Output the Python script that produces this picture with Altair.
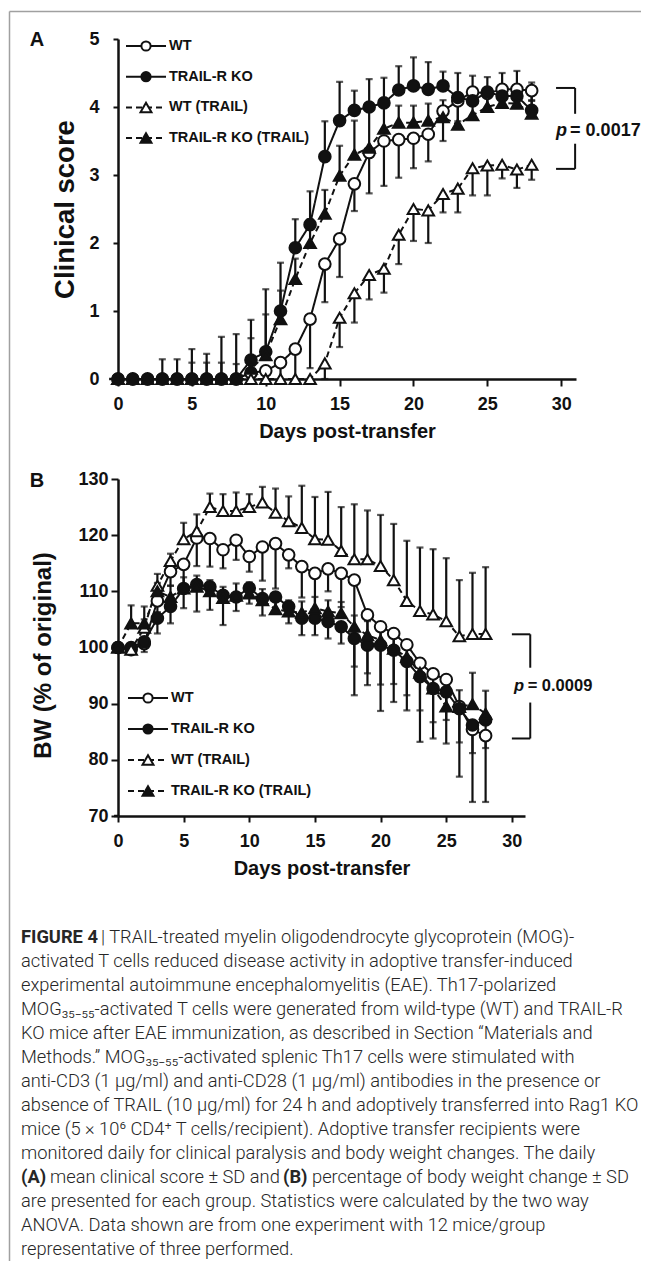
import altair as alt
import pandas as pd

# ---------------- data ----------------
days = list(range(29))
series_names = ["WT", "TRAIL-R KO", "WT (TRAIL)", "TRAIL-R KO (TRAIL)"]

# Panel A : clinical score (mean) and SD
a_wt = [0, 0, 0, 0, 0, 0, 0, 0, 0, 0.09, 0.12, 0.24, 0.44, 0.88, 1.69, 2.06, 2.87, 3.33,
        3.50, 3.52, 3.54, 3.60, 3.94, 4.09, 4.22, 4.20, 4.26, 4.26, 4.24]
a_wt_sd = [0, 0, 0, 0, 0, 0, 0, 0, 0, 0.09, 0.12, 0.24, 0.44, 0.72, 0.56, 0.56, 0.40, 0.60,
           0.66, 0.56, 0.44, 0.40, 0.44, 0.30, 0.20, 0.20, 0.15, 0.20, 0.15]
a_ko = [0, 0, 0, 0, 0, 0, 0, 0, 0, 0.28, 0.40, 1.00, 1.93, 2.27, 3.27, 3.80, 3.95, 4.00,
        4.06, 4.25, 4.31, 4.26, 4.31, 4.14, 4.09, 4.22, 4.16, 4.16, 3.95]
a_ko_sd = [0, 0, 0, 0.29, 0.29, 0.44, 0.37, 0.62, 0.66, 0.59, 0.92, 0.71, 0.42, 0.49, 0.52,
           0.57, 0.29, 0.41, 0.37, 0.35, 0.42, 0.40, 0.21, 0.36, 0.37, 0.22, 0.34, 0.37, 0.41]
a_wtt = [0, 0, 0, 0, 0, 0, 0, 0, 0, 0, 0, 0, 0, 0, 0.23, 0.90, 1.26, 1.53, 1.62, 2.12, 2.50,
         2.48, 2.72, 2.80, 3.10, 3.14, 3.15, 3.08, 3.15]
a_wtt_sd = [0, 0, 0, 0, 0, 0, 0, 0, 0, 0, 0, 0, 0, 0, 0.23, 0.43, 0.43, 0.36, 0.35, 0.43,
            0.47, 0.48, 0.27, 0.35, 0.40, 0.44, 0.20, 0.27, 0.22]
a_kot = [0, 0, 0, 0, 0, 0, 0, 0, 0, 0.15, 0.35, 0.88, 1.47, 2.00, 2.43, 2.99, 3.30, 3.40,
         3.68, 3.77, 3.77, 3.80, 3.85, 3.74, 3.88, 4.00, 4.06, 4.05, 3.90]
a_kot_sd = [0, 0, 0, 0, 0, 0.24, 0.24, 0.24, 0.22, 0.45, 0.60, 0.42, 0.30, 0.35, 0.35,
            0.44, 0.50, 0.60, 0.42, 0.25, 0.25, 0.25, 0.25, 0.30, 0.22, 0.25, 0.25, 0.25, 0.20]

# Panel B : body weight (% of original) and SD
b_wt = [100, 99.6, 100.7, 108.3, 113.5, 114.8, 119.5, 119.4, 117.4, 119.1, 116.2, 117.9,
        118.5, 116.5, 114.4, 113.2, 114.0, 113.2, 112.0, 105.8, 103.7, 102.5, 100.5, 97.2,
        95.3, 94.3, 89.5, 85.4, 84.3]
b_wt_sd = [0, 0.5, 1.5, 2.0, 2.5, 4.0, 5.0, 5.0, 3.3, 3.5, 2.7, 6.0, 8.0, 2.4, 5.5, 8.0,
           4.0, 6.0, 20.5, 12.5, 15.0, 12.2, 11.7, 14.0, 11.5, 11.4, 12.5, 12.9, 11.8]
b_ko = [100, 100, 101.0, 105.2, 107.3, 110.5, 111.2, 110.8, 109.3, 109.0, 110.6, 108.7,
        109.0, 107.3, 105.2, 105.2, 104.6, 103.7, 101.6, 100.4, 100.4, 99.5, 97.5, 94.8,
        92.7, 92.1, 89.1, 86.2, 87.1]
b_ko_sd = [0, 0.5, 1.0, 2.7, 3.0, 3.5, 4.8, 4.1, 5.3, 2.5, 2.8, 3.0, 3.0, 3.0, 3.0, 3.0,
           3.0, 3.0, 5.0, 5.0, 7.0, 6.0, 6.0, 6.0, 6.0, 5.0, 6.0, 5.0, 5.0]
b_wtt = [100, 99.6, 103.5, 111.0, 115.4, 119.3, 120.7, 125.0, 124.3, 124.3, 125.0, 125.8,
         124.0, 122.5, 121.3, 119.3, 119.2, 117.2, 115.7, 115.7, 114.5, 112.0, 108.3, 106.5,
         105.9, 104.7, 102.0, 102.4, 102.4]
b_wtt_sd = [0, 0.5, 1.5, 2.1, 1.3, 2.9, 3.0, 2.4, 3.0, 3.3, 2.3, 2.8, 4.3, 4.4, 7.5, 7.5,
            8.5, 7.8, 9.8, 8.7, 9.1, 10.0, 10.7, 11.3, 11.6, 11.2, 10.0, 10.9, 11.9]
b_kot = [100, 104.3, 104.3, 110.0, 109.0, 110.5, 110.8, 110.0, 108.8, 109.2, 109.6, 108.4,
         106.8, 106.4, 106.2, 107.0, 106.4, 106.1, 103.7, 102.2, 101.3, 99.8, 98.3, 95.5,
         92.7, 89.5, 89.4, 89.9, 88.2]
b_kot_sd = [0, 3.2, 3.0, 1.5, 2.0, 2.0, 2.0, 2.0, 2.0, 2.2, 2.0, 2.0, 2.0, 2.0, 2.0, 2.0,
            2.0, 2.0, 2.0, 2.5, 2.5, 2.5, 2.5, 2.5, 2.5, 3.0, 3.0, 5.6, 4.1]

# error bar direction per series (+1 up, -1 down), as drawn in the figure
a_dirs = [-1, 1, -1, 1]
b_dirs = [-1, -1, 1, 1]

x_ticks = [0, 5, 10, 15, 20, 25, 30]
a_yticks = [0, 1, 2, 3, 4, 5]
b_yticks = [70, 80, 90, 100, 110, 120, 130]

p_a = "= 0.0017"
p_b = "= 0.0009"

caption_lines = [
    "FIGURE 4 | TRAIL-treated myelin oligodendrocyte glycoprotein (MOG)-",
    "activated T cells reduced disease activity in adoptive transfer-induced",
    "experimental autoimmune encephalomyelitis (EAE). Th17-polarized",
    "MOG₃₅₋₅₅-activated T cells were generated from wild-type (WT) and TRAIL-R",
    "KO mice after EAE immunization, as described in Section “Materials and",
    "Methods.” MOG₃₅₋₅₅-activated splenic Th17 cells were stimulated with",
    "anti-CD3 (1 µg/ml) and anti-CD28 (1 µg/ml) antibodies in the presence or",
    "absence of TRAIL (10 µg/ml) for 24 h and adoptively transferred into Rag1 KO",
    "mice (5 × 10⁶ CD4⁺ T cells/recipient). Adoptive transfer recipients were",
    "monitored daily for clinical paralysis and body weight changes. The daily",
    "(A) mean clinical score ± SD and (B) percentage of body weight change ± SD",
    "are presented for each group. Statistics were calculated by the two way",
    "ANOVA. Data shown are from one experiment with 12 mice/group",
    "representative of three performed.",
]

# ---------------- styling ----------------
INK = "#111111"
FONT = "Liberation Sans"
CAP_FONT = "Roboto"
shape_scale = alt.Scale(domain=series_names,
                        range=["circle", "circle", "triangle-up", "triangle-up"])
fill_scale = alt.Scale(domain=series_names, range=["white", INK, "white", INK])
size_scale = alt.Scale(domain=series_names, range=[135, 135, 185, 185])
dash_scale = alt.Scale(domain=series_names, range=[[1, 0], [1, 0], [6, 4], [6, 4]])


def long_table(means, sds, dirs):
    rows = []
    for name, m, s, d in zip(series_names, means, sds, dirs):
        for day, v, e in zip(days, m, s):
            end = v + d * e
            rows.append({"series": name, "day": day, "value": v, "sd": e,
                         "lo": min(v, end), "hi": max(v, end), "end": end})
    return pd.DataFrame(rows)


def legend_layers(x0, y0, step):
    layers = []
    one = pd.DataFrame({"k": [0]})
    for i, name in enumerate(series_names):
        y = y0 + i * step
        dash = [1, 0] if i < 2 else [6, 4]
        layers.append(alt.Chart(one).mark_rule(color=INK, strokeWidth=2, strokeDash=dash).encode(
            x=alt.value(x0), x2=alt.value(x0 + 40), y=alt.value(y)))
        layers.append(alt.Chart(one).mark_point(
            filled=True, stroke=INK, strokeWidth=2,
            fill=("white" if i in (0, 2) else INK),
            shape=("circle" if i < 2 else "triangle-up"),
            size=(85 if i < 2 else 120), opacity=1).encode(
            x=alt.value(x0 + 20), y=alt.value(y)))
        layers.append(alt.Chart(one).mark_text(
            align="left", baseline="middle", font=FONT, fontWeight="bold",
            fontSize=14.5, color=INK).encode(
            x=alt.value(x0 + 43), y=alt.value(y), text=alt.value(name)))
    return layers


def panel(df, xdom, ydom, w, h, xaxis, yaxis, bracket, ptext, plabel, pfont, ext,
          letter_xy, legend):
    xs = alt.Scale(domain=xdom, nice=False, zero=False)
    ys = alt.Scale(domain=ydom, nice=False, zero=False)

    def X(f):
        return alt.X(f, type="quantitative", scale=xs, axis=xaxis)

    def Y(f):
        return alt.Y(f, type="quantitative", scale=ys, axis=yaxis)

    bars_df = df[df["sd"] > 0]
    bars = alt.Chart(bars_df).mark_rule(color=INK, strokeWidth=2.2).encode(
        x=X("day"), y=Y("lo"), y2="hi:Q")
    caps = alt.Chart(bars_df).mark_tick(color=INK, orient="horizontal", size=7,
                                        thickness=2.2).encode(x=X("day"), y=Y("end"))
    lines = alt.Chart(df).mark_line(color=INK, strokeWidth=2).encode(
        x=X("day"), y=Y("value"), detail="series:N",
        strokeDash=alt.StrokeDash("series:N", scale=dash_scale, legend=None))
    pts = alt.Chart(df).mark_point(filled=True, stroke=INK, strokeWidth=2, opacity=1).encode(
        x=X("day"), y=Y("value"),
        shape=alt.Shape("series:N", scale=shape_scale, legend=None),
        fill=alt.Fill("series:N", scale=fill_scale, legend=None),
        size=alt.Size("series:N", scale=size_scale, legend=None))
    # axis extension to the left of the y axis
    ext_df = pd.DataFrame({"x": [ext], "x2": [0], "y": [ydom[0]]})
    extl = alt.Chart(ext_df).mark_rule(color=INK, strokeWidth=2.5).encode(
        x=X("x"), x2="x2:Q", y=Y("y"))
    # significance bracket
    bx0, bx1, yt, ym1, ym2, yb = bracket
    br_df = pd.DataFrame({
        "x": [bx0, bx1, bx1, bx0], "x2": [bx1, bx1, bx1, bx1],
        "y": [yt, yt, ym2, yb], "y2": [yt, ym1, yb, yb]})
    br = alt.Chart(br_df).mark_rule(color=INK, strokeWidth=2).encode(
        x=X("x"), x2="x2:Q", y=Y("y"), y2="y2:Q")
    px, px2, py = ptext
    pt1 = alt.Chart(pd.DataFrame({"x": [px], "y": [py], "t": ["p"]})).mark_text(
        align="left", baseline="middle", font=FONT, fontWeight="bold", fontStyle="italic",
        fontSize=pfont, color=INK).encode(x=X("x"), y=Y("y"), text="t:N")
    pt2 = alt.Chart(pd.DataFrame({"x": [px2], "y": [py], "t": [plabel]})).mark_text(
        align="left", baseline="middle", font=FONT, fontWeight="bold",
        fontSize=pfont, color=INK).encode(x=X("x"), y=Y("y"), text="t:N")
    letter = alt.Chart(pd.DataFrame({"k": [0]})).mark_text(
        font=FONT, fontWeight="bold", fontSize=20, color=INK, baseline="middle",
        align="center").encode(
        x=alt.value(letter_xy[0]), y=alt.value(letter_xy[1]), text=alt.value(letter_xy[2]))
    layers = [bars, caps, lines, pts, extl, br, pt1, pt2, letter] + legend
    return alt.layer(*layers).properties(width=w, height=h)


dfa = long_table([a_wt, a_ko, a_wtt, a_kot], [a_wt_sd, a_ko_sd, a_wtt_sd, a_kot_sd], a_dirs)
xa = alt.Axis(values=x_ticks, tickSize=7, labelPadding=9, title="Days post-transfer",
              titleFontSize=20, titlePadding=8, labelFlush=False, labelOverlap=False)
ya = alt.Axis(values=a_yticks, tickSize=5, labelPadding=14, title="Clinical score",
              titleFontSize=27.5, titlePadding=9, labelFlush=False, labelOverlap=False)
chart_a = panel(dfa, [0, 31], [0, 5], 458, 340, xa, ya,
                (29.65, 30.94, 4.28, 3.90, 3.46, 3.09), (29.65, 30.6, 3.65), p_a, 18, -0.6,
                (-81, 0.5, "A"), legend_layers(8, 7, 30.7))

dfb = long_table([b_wt, b_ko, b_wtt, b_kot], [b_wt_sd, b_ko_sd, b_wtt_sd, b_kot_sd], b_dirs)
xb = alt.Axis(values=x_ticks, tickSize=6, labelPadding=10, title="Days post-transfer",
              titleFontSize=20, titlePadding=8, labelFlush=False, labelOverlap=False)
yb = alt.Axis(values=b_yticks, tickSize=7, labelPadding=3, title="BW (% of original)",
              titleFontSize=24, titlePadding=22, titleY=176, labelFlush=False,
              labelOverlap=False)
chart_b = panel(dfb, [0, 31], [70, 130], 407, 337, xb, yb,
                (30.0, 31.4, 102.35, 96.4, 90.2, 83.8), (30.16, 31.2, 93.1), p_b, 16.5, -0.3,
                (-81, 2, "B"), legend_layers(10, 219, 31))

# ---------------- caption ----------------
one = pd.DataFrame({"k": [0]})
cap_layers = []
CX = -97
CY0 = 22
LH = 24
CS = 18.3
CAP_COLOR = "#262626"


def ctext(x, y, t, bold=False):
    return alt.Chart(one).mark_text(
        align="left", baseline="middle", font=CAP_FONT, fontSize=CS,
        fontWeight=("bold" if bold else 300), color=CAP_COLOR).encode(
        x=alt.value(x), y=alt.value(y), text=alt.value(t))


for i, line in enumerate(caption_lines):
    y = CY0 + i * LH
    if i == 0:
        cap_layers.append(ctext(CX, y, "FIGURE 4", True))
        cap_layers.append(ctext(CX + 80, y, line[len("FIGURE 4"):]))
    elif i == 10:
        cap_layers.append(ctext(CX, y, "(A)", True))
        cap_layers.append(ctext(CX + 29, y, " mean clinical score ± SD and"))
        cap_layers.append(ctext(CX + 262, y, "(B)", True))
        cap_layers.append(ctext(CX + 291, y, " percentage of body weight change ± SD"))
    else:
        cap_layers.append(ctext(CX, y, line))

# figure frame (top and left border)
cap_layers.append(alt.Chart(one).mark_rule(color="#a0a0a0", strokeWidth=1.5).encode(
    x=alt.value(-108.5), x2=alt.value(523), y=alt.value(-904.5)))
cap_layers.append(alt.Chart(one).mark_rule(color="#a0a0a0", strokeWidth=1.5).encode(
    x=alt.value(-108.5), y=alt.value(-904.5), y2=alt.value(345)))

caption = alt.layer(*cap_layers).properties(width=400, height=340)

chart = alt.vconcat(chart_a, chart_b, caption, spacing=100, bounds="flush").configure(
    padding={"left": 0, "top": 2, "right": 0, "bottom": 0}, font=FONT
).configure_view(stroke=None).configure_axis(
    domainColor=INK, domainWidth=2.5, tickColor=INK, tickWidth=2, grid=False,
    labelFont=FONT, labelFontWeight="bold", labelFontSize=18, labelColor=INK,
    titleFont=FONT, titleFontWeight="bold", titleColor=INK)

chart.save("out.html", embed_options={"renderer": "svg", "actions": False})
